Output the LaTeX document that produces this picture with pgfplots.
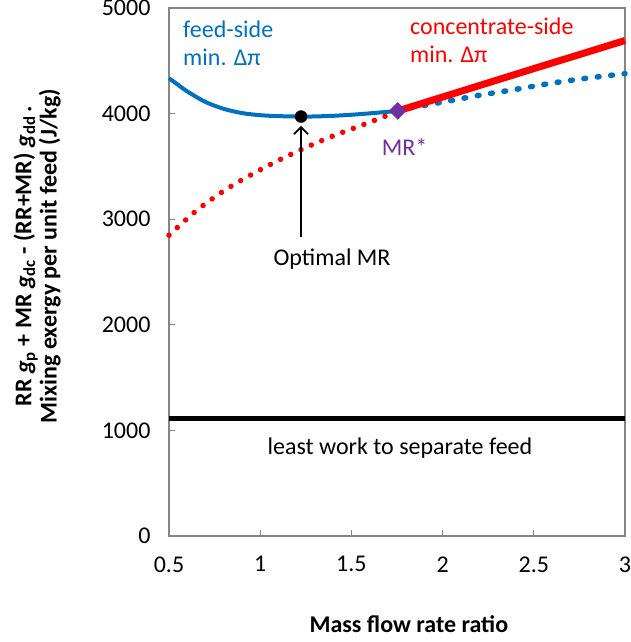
\documentclass[border=0pt]{standalone}
\usepackage{pgfplots}
\pgfplotsset{compat=1.18}
\usetikzlibrary{arrows.meta}
\usepackage{fontspec}
\setmainfont{Carlito}
\definecolor{myblue}{RGB}{0,112,192}
\definecolor{myred}{RGB}{255,0,0}
\definecolor{mypurple}{RGB}{112,48,160}
\definecolor{axgray}{RGB}{134,134,134}
\begin{document}
\begin{tikzpicture}[font=\fontsize{24}{24}\selectfont]
\begin{axis}[
  scale only axis,
  width=456pt, height=528pt,
  xmin=0.5, xmax=3, ymin=0, ymax=5000,
  xtick={0.5,1,1.5,2,2.5,3},
  xticklabels={0.5,1,1.5,2,2.5,3},
  ytick={0,1000,2000,3000,4000,5000},
  yticklabels={0,1000,2000,3000,4000,5000},
  tick align=inside,
  xtick pos=bottom, ytick pos=left,
  major tick length=6pt,
  axis line style={axgray, line width=1.3pt},
  every tick/.style={axgray, line width=1.3pt},
  yticklabel style={xshift=-15pt},
  xticklabel style={yshift=-17pt},
  xlabel={\bfseries Mass flow rate ratio},
  xlabel style={at={(axis description cs:0.526,0)}, anchor=base, yshift=-96pt},
  ylabel={\bfseries RR \textit{g}\textsubscript{p} + MR \textit{g}\textsubscript{dc} - (RR+MR) \textit{g}\textsubscript{dd}\,.\\\bfseries Mixing exergy per unit feed (J/kg)},
  ylabel style={at={(axis description cs:-0.289,0.530)}, anchor=center, align=center},
  clip=false,
]
% least work line
\addplot[black, line width=5pt] coordinates {(0.5,1110) (3,1110)};
% red dotted (concentrate-side below MR*)
\addplot[myred, line width=5.5pt, line cap=round, dash pattern=on 0pt off 11.3pt, smooth] coordinates {
 (0.5,2848) (0.646,3075) (0.803,3271) (0.971,3441) (1.145,3595) (1.319,3731) (1.437,3813) (1.565,3895) (1.684,3974) (1.754,4022)};
% blue dotted (feed-side above MR*)
\addplot[myblue, line width=5.5pt, line cap=round, dash pattern=on 1.8pt off 11.7pt, smooth] coordinates {
 (1.754,4025) (1.82,4053) (2.02,4115) (2.21,4176) (2.4,4229) (2.59,4286) (2.78,4333) (3.0,4378)};
% blue solid
\addplot[myblue, line width=4pt, smooth] coordinates {
 (0.5,4335) (0.55,4272) (0.6,4210) (0.7,4110) (0.8,4045) (0.9,4005) (1.0,3985) (1.1,3976) (1.224,3972) (1.3,3973) (1.4,3979) (1.5,3989) (1.6,4002) (1.754,4025)};
% red solid
\addplot[myred, line width=7pt] coordinates {
 (1.754,4025) (2.0,4157) (2.5,4426) (3.0,4692)};
% optimal point
\addplot[only marks, mark=*, mark size=6pt, black] coordinates {(1.224,3972)};
% MR*
\addplot[only marks, mark=square*, mark size=6pt, mark options={rotate=45, fill=mypurple, draw=mypurple}] coordinates {(1.754,4025)};
% arrow
\draw[-{Straight Barb[length=7pt,width=14pt]}, black, line width=1.8pt] (axis cs:1.224,2834) -- (axis cs:1.224,3884);
% texts
\node[anchor=base west, inner sep=0pt, text=myblue] at (axis cs:0.577,4718) {feed-side};
\node[anchor=base west, inner sep=0pt, text=myblue] at (axis cs:0.577,4452) {min. Δπ};
\node[anchor=base west, inner sep=0pt, text=myred] at (axis cs:1.821,4753) {concentrate-side};
\node[anchor=base west, inner sep=0pt, text=myred] at (axis cs:1.821,4484) {min. Δπ};
\node[anchor=base west, inner sep=0pt, text=mypurple] at (axis cs:1.666,3602) {MR*};
\node[anchor=base, inner sep=0pt] at (axis cs:1.394,2561) {Optimal MR};
\node[anchor=base, inner sep=0pt] at (axis cs:1.766,773) {least work to separate feed};
\end{axis}
\pgfresetboundingbox
\useasboundingbox ([xshift=-169pt,yshift=-106pt]current axis.south west) rectangle ([xshift=6pt,yshift=8pt]current axis.north east);
\end{tikzpicture}
\end{document}
